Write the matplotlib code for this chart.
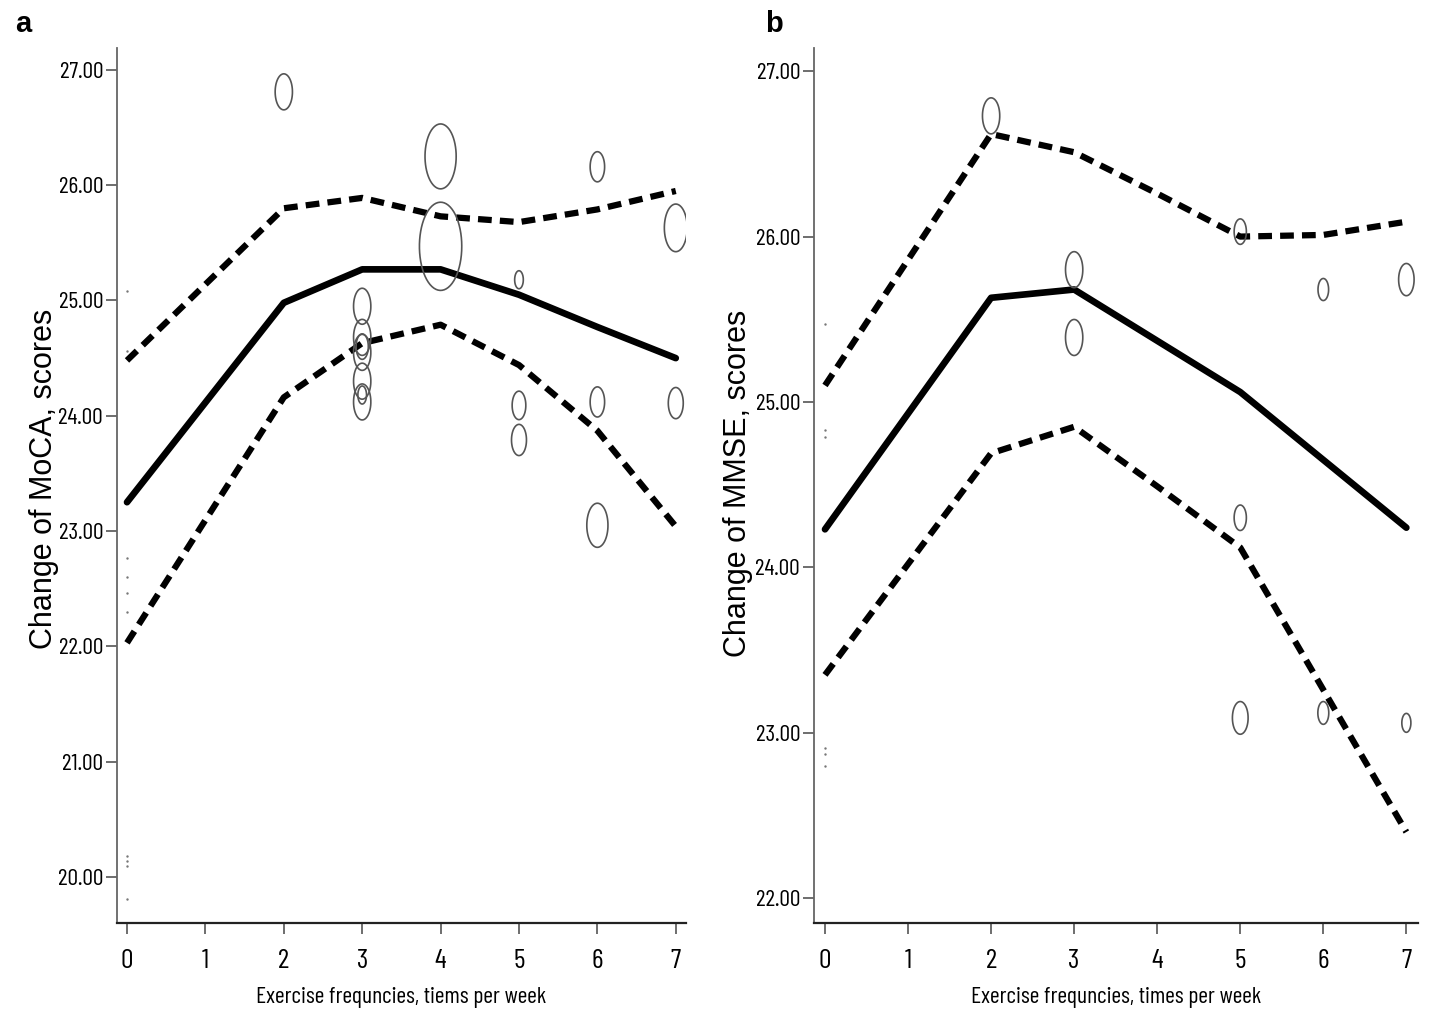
import numpy as np
import matplotlib
matplotlib.use("Agg")
import matplotlib.pyplot as plt
from matplotlib.path import Path

# fitted curve with 95% band, nodes at these exercise frequencies
weeks = [0, 2, 3, 4, 5, 6, 7]

moca_fit = [23.25, 24.98, 25.27, 25.27, 25.05, 24.77, 24.50]
moca_upper = [24.48, 25.80, 25.89, 25.73, 25.68, 25.79, 25.95]
moca_lower = [22.03, 24.16, 24.63, 24.79, 24.44, 23.87, 23.04]

mmse_fit = [24.23, 25.63, 25.68, 25.37, 25.06, 24.65, 24.24]
mmse_upper = [25.10, 26.62, 26.51, 26.26, 26.00, 26.01, 26.09]
mmse_lower = [23.35, 24.69, 24.85, 24.49, 24.12, 23.26, 22.40]

# weighted observations (bubble weight)
moca_pts_x = [2, 3, 3, 3, 3, 3, 3, 3, 4, 4, 5, 5, 5, 6, 6, 6, 7, 7]
moca_pts_y = [26.81, 24.95, 24.68, 24.60, 24.55, 24.30, 24.18, 24.12,
              26.25, 25.47, 25.18, 24.09, 23.79, 26.16, 24.12, 23.05, 25.63, 24.11]
moca_pts_w = [4, 4, 4, 2, 4, 4, 1, 4, 13, 24, 1, 2.5, 3, 2.8, 2.8, 6, 7, 3]

mmse_pts_x = [2, 3, 3, 5, 5, 5, 6, 6, 7, 7]
mmse_pts_y = [26.73, 25.80, 25.39, 26.03, 24.30, 23.09, 25.68, 23.12, 25.74, 23.06]
mmse_pts_w = [4, 4, 4, 2, 2, 3.3, 1.5, 1.6, 3.2, 1.1]

# near-zero weight observations at 0 times per week
moca_zero_y = [25.08, 24.56, 22.77, 22.60, 22.46, 22.30, 20.18, 20.14, 20.09, 19.81]
mmse_zero_y = [25.47, 24.83, 24.79, 22.91, 22.87, 22.80]

moca_yticks = [20, 21, 22, 23, 24, 25, 26, 27]
mmse_yticks = [22, 23, 24, 25, 26, 27]
xticks = [0, 1, 2, 3, 4, 5, 6, 7]

narrow = ['Barlow Condensed', 'Roboto Condensed', 'DejaVu Sans']
wide = ['Liberation Sans', 'DejaVu Sans']
plt.rcParams['font.family'] = narrow

# bubbles look squeezed in the original, so use an ellipse marker
theta = np.linspace(0, 2 * np.pi, 64)
ellipse = Path(np.column_stack([0.48 * np.cos(theta), np.sin(theta)]))

fig = plt.figure(figsize=(14.3, 10.33), dpi=100)
ax_a = fig.add_axes([0.0818, 0.1065, 0.3979, 0.8470])
ax_b = fig.add_axes([0.5692, 0.1065, 0.4224, 0.8470])


def draw_panel(ax, fit, upper, lower, px, py, pw, zero_y, yticks, ylim, xlim):
    ax.plot(weeks, upper, color='black', lw=4.5, ls=(0, (2.2, 1.3)), dash_capstyle='butt')
    ax.plot(weeks, lower, color='black', lw=4.5, ls=(0, (2.2, 1.3)), dash_capstyle='butt')
    ax.plot(weeks, fit, color='black', lw=4.8, solid_capstyle='round', solid_joinstyle='round')
    ax.scatter(px, py, s=[168 * w for w in pw], marker=ellipse, facecolors='none',
               edgecolors='#555555', linewidths=1.2, zorder=3)
    ax.scatter([0] * len(zero_y), zero_y, s=3, marker='o', color='#777777', linewidths=0, zorder=3)
    ax.set_xlim(*xlim)
    ax.set_ylim(*ylim)
    ax.set_xticks(xticks)
    ax.set_xticklabels([str(t) for t in xticks])
    ax.set_yticks(yticks)
    ax.set_yticklabels([f"{t:.2f}" for t in yticks])
    for side in ['top', 'right']:
        ax.spines[side].set_visible(False)
    ax.spines['left'].set_color('#666666')
    ax.spines['left'].set_linewidth(1.3)
    ax.spines['bottom'].set_color('#222222')
    ax.spines['bottom'].set_linewidth(1.6)
    ax.tick_params(axis='both', direction='out', length=8, width=1.2, color='#555555')
    ax.tick_params(axis='y', labelsize=17, pad=2)
    ax.tick_params(axis='x', labelsize=20, pad=11)


draw_panel(ax_a, moca_fit, moca_upper, moca_lower, moca_pts_x, moca_pts_y, moca_pts_w,
           moca_zero_y, moca_yticks, (19.60, 27.19), (-0.128, 7.13))
draw_panel(ax_b, mmse_fit, mmse_upper, mmse_lower, mmse_pts_x, mmse_pts_y, mmse_pts_w,
           mmse_zero_y, mmse_yticks, (21.85, 27.14), (-0.133, 7.14))

ax_a.set_xlabel("Exercise frequncies, tiems per week", fontsize=17, labelpad=10)
ax_b.set_xlabel("Exercise frequncies, times per week", fontsize=17, labelpad=10)

fig.text(0.0365, 0.536, "Change of MoCA, scores", rotation=90, rotation_mode='anchor',
         ha='center', va='baseline', fontsize=22, family=wide)
fig.text(0.5215, 0.532, "Change of MMSE, scores", rotation=90, rotation_mode='anchor',
         ha='center', va='baseline', fontsize=22, family=wide)

fig.text(0.0105, 0.969, "a", fontsize=21, fontweight='bold', va='baseline', family=wide)
fig.text(0.535, 0.969, "b", fontsize=21, fontweight='bold', va='baseline', family=wide)

fig.savefig("out.png", dpi=100)
plt.close(fig)
